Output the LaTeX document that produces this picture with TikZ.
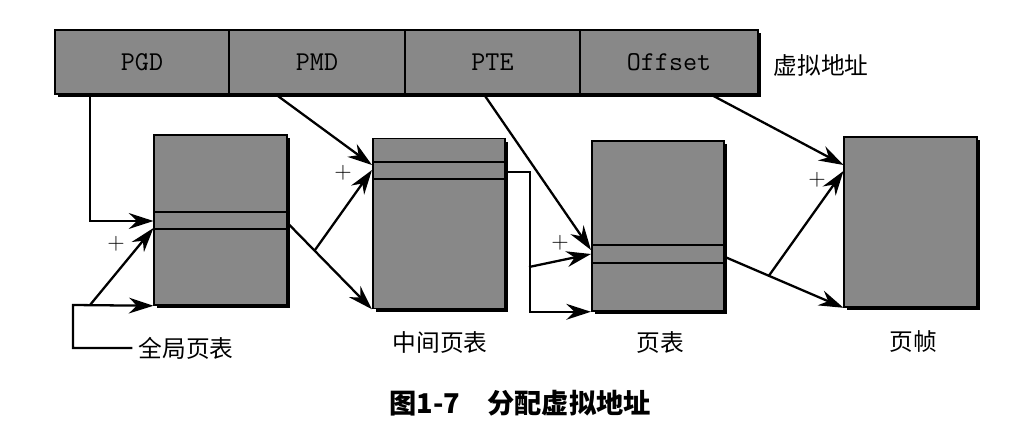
\documentclass[tikz,border=0pt]{standalone}
\usepackage{fontspec}
\newfontfamily\cjk{Noto Sans CJK SC}
\usepackage{tikz}
\usetikzlibrary{arrows.meta, shadows, calc, positioning}
\usepackage{xcolor}
\definecolor{boxgray}{RGB}{136,136,136}

\tikzset{
	cell/.style={draw, line width=0.9pt, fill=boxgray, inner sep=0pt, minimum height=1.28cm,
		font=\ttfamily\fontsize{15.5}{18}\selectfont},
	tbl/.style={draw, line width=0.9pt, fill=boxgray, inner sep=0pt, minimum width=2.65cm, minimum height=3.4cm,
		drop shadow={shadow xshift=1.8pt, shadow yshift=-1.8pt, fill=black, opacity=1}},
	arr/.style={line width=1.3pt, -{Stealth[length=14pt,width=9pt]}},
	lbl/.style={font=\cjk\fontsize{13.5}{16}\selectfont},
	plus/.style={font=\fontsize{13}{15}\selectfont}
}

\begin{document}
\begin{tikzpicture}[x=0.02cm, y=-0.02cm]
		\useasboundingbox (0,0) rectangle (1024,439);
		% virtual address
		\fill (58,33) rectangle (761,97);
		\draw (142,62) node[cell, minimum width=3.48cm] (pgd) {PGD}
		(317,62) node[cell, minimum width=3.52cm] (pmd) {PMD}
		(492.5,62) node[cell, minimum width=3.5cm] (pte) {PTE}
		(669,62) node[cell, minimum width=3.56cm] (off) {Offset}
		(821,65) node[lbl] (va) {虚拟地址};
		
		% tables
		\draw (220.5,220) node[tbl] (b1) {}
		(439,223.5) node[tbl] (b2) {}
		(658,226) node[tbl] (b3) {}
		(910.5,222) node[tbl] (b4) {};
		\draw[line width=0.9pt] (b1.west |- 0,212) -- (b1.east |- 0,212) (b1.west |- 0,229) -- (b1.east |- 0,229);
		\draw[line width=0.9pt] (b2.west |- 0,162) -- (b2.east |- 0,162) (b2.west |- 0,179) -- (b2.east |- 0,179);
		\draw[line width=0.9pt] (b3.west |- 0,245) -- (b3.east |- 0,245) (b3.west |- 0,263) -- (b3.east |- 0,263);
		
		\draw (186,348) node[lbl] (gl) {全局页表}
		(440,343) node[lbl] (ml) {中间页表}
		(660,343) node[lbl] (pl) {页表}
		(913,342) node[lbl] (fl) {页帧};
		
		% PGD
		\draw[arr] ($(pgd.south west)+(36,0)$) |- (b1.west |- 0,221);
		\coordinate (k0) at (90,305);
		\draw[arr] (gl.west) -| (73,305) -- (b1.south west);
		\draw[arr] (k0) -- (b1.west |- 0,228);
		
		% PMD
		\draw[arr] ($(pmd.south west)+(48,0)$) -- (b2.west |- 0,165);
		\coordinate (s1) at (b1.east |- 0,223);
		\coordinate (k1) at ($(s1)!0.32!(b2.south west)$);
		\draw[arr] (s1) -- (b2.south west);
		\draw[arr] (k1) -- (b2.west |- 0,170);
		
		% PTE
		\draw[arr] ($(pte.south west)+(80,0)$) -- (b3.west |- 0,250);
		\draw[arr] (b2.east |- 0,172) -- ++(24,0) |- (b3.south west);
		\coordinate (k2) at (529,267);
		\draw[arr] (k2) -- (b3.west |- 0,254);
		
		% Offset
		\draw[arr] ($(off.south west)+(132,0)$) -- (b4.west |- 0,165);
		\coordinate (s3) at (b3.east |- 0,257);
		\coordinate (k3) at ($(s3)!0.37!(b4.south west)$);
		\draw[arr] (s3) -- (b4.south west);
		\draw[arr] (k3) -- (b4.west |- 0,171);
		
		\draw (116,244) node[plus] (p1) {+}
		(343,173) node[plus] (p2) {+}
		(560,243) node[plus] (p3) {+}
		(817,180) node[plus] (p4) {+};
		
		\draw (520,403) node[font=\cjk\bfseries\fontsize{15.5}{18}\selectfont] (cap) {图1-7\quad 分配虚拟地址};
	\end{tikzpicture}
\end{document}
